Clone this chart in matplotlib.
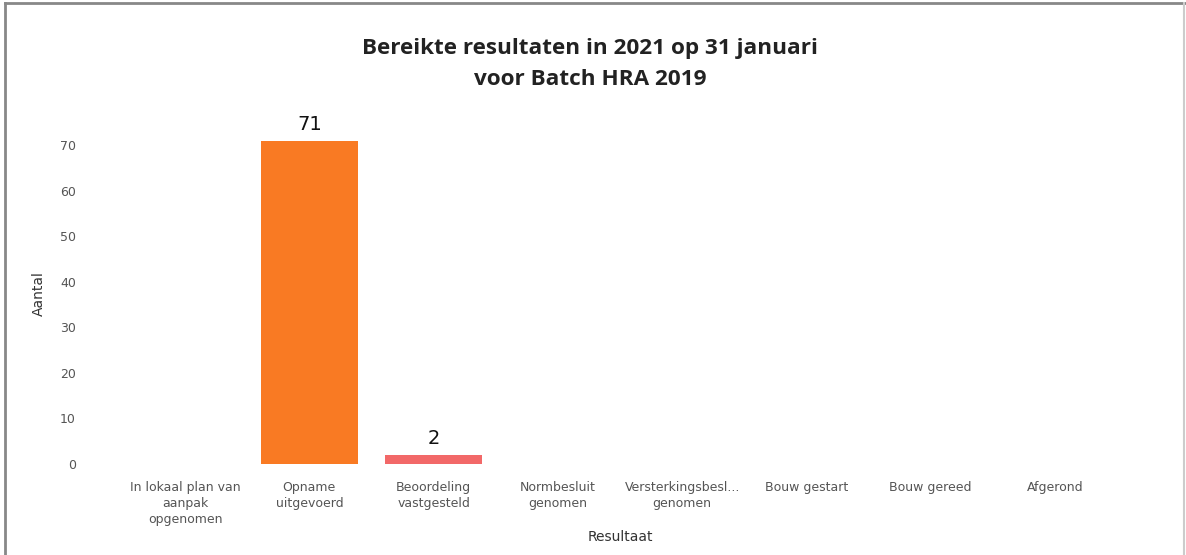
import matplotlib.pyplot as plt
from matplotlib.lines import Line2D

# ---------- data ----------
categories = [
    "In lokaal plan van\naanpak\nopgenomen",
    "Opname\nuitgevoerd",
    "Beoordeling\nvastgesteld",
    "Normbesluit\ngenomen",
    "Versterkingsbesl...\ngenomen",
    "Bouw gestart",
    "Bouw gereed",
    "Afgerond",
]
counts = [0, 71, 2, 0, 0, 0, 0, 0]
bar_colors = ["#4C8BF5", "#F97A23", "#F26868", "#5BC0DE",
              "#8BC34A", "#9C27B0", "#FFC107", "#607D8B"]

title = "Bereikte resultaten in 2021 op 31 januari\nvoor Batch HRA 2019"

# ---------- plot ----------
fig = plt.figure(figsize=(11.86, 5.55), dpi=100)
ax = fig.add_axes([0.1037, 0.164, 0.8381, 0.613])

x = list(range(len(categories)))
ax.bar(x, counts, width=0.78, color=bar_colors)
for xi, v in zip(x, counts):
    if v > 0:
        ax.annotate(str(v), (xi, v), xytext=(0, 5), textcoords="offset points",
                    ha="center", va="bottom", fontsize=14, color="#111111")

ax.set_xlim(-0.5, len(categories) - 0.5)
ax.set_ylim(0, 74.7)
ax.set_yticks(range(0, 71, 10))
ax.set_xticks(x)
ax.set_xticklabels(categories, fontsize=9, color="#555555", linespacing=1.3)
ax.tick_params(axis="x", length=0, pad=12)
ax.tick_params(axis="y", length=0, pad=34, labelsize=9, labelcolor="#555555")
for s in ax.spines.values():
    s.set_visible(False)

ax.set_xlabel("Resultaat", fontsize=10, color="#333333", labelpad=3)
ax.set_ylabel("Aantal", fontsize=10, color="#333333")
ax.yaxis.set_label_coords(-0.078, 0.5)

fig.text(0.4975, 0.885, title, ha="center", va="center", fontsize=16.2,
         fontweight="bold", family="Open Sans", color="#222222", linespacing=1.65)

# frame of the screenshot
fig.add_artist(Line2D([0.004, 0.004], [0, 0.995], transform=fig.transFigure,
                      color="#888888", lw=2))
fig.add_artist(Line2D([0.004, 1], [0.995, 0.995], transform=fig.transFigure,
                      color="#888888", lw=2))
fig.add_artist(Line2D([0.998, 0.998], [0, 0.995], transform=fig.transFigure,
                      color="#cccccc", lw=1.5))

fig.savefig("out.png", dpi=100)
